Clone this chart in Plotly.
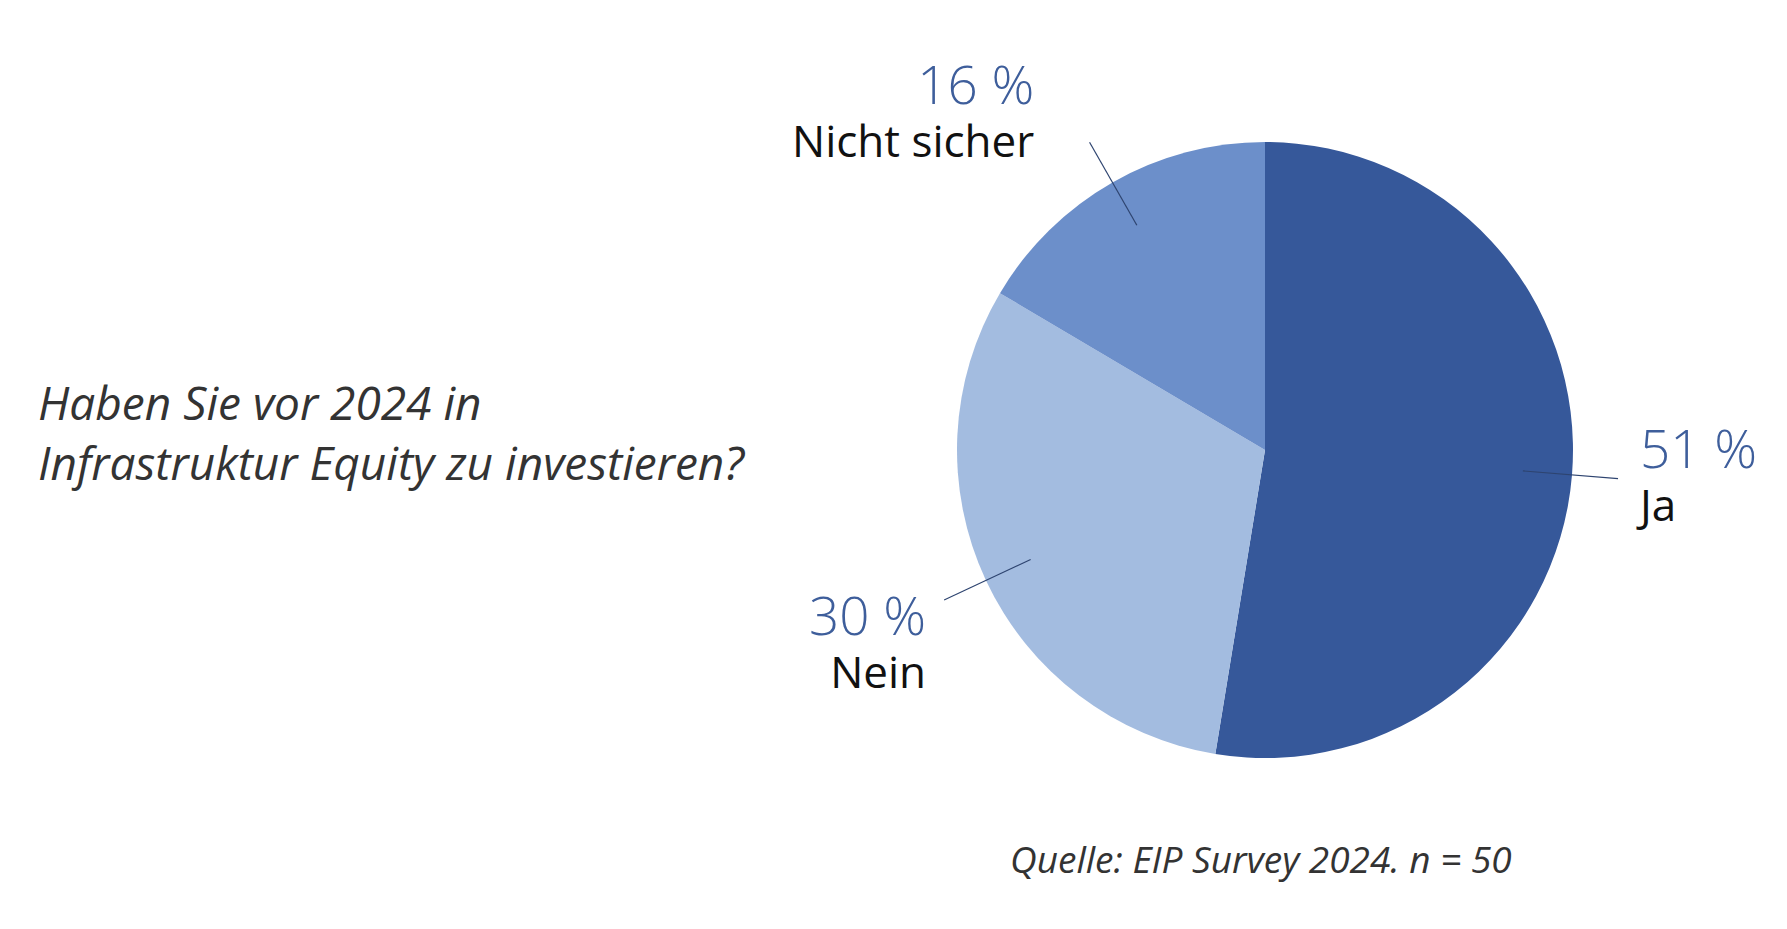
import math
import plotly.graph_objects as go

# ---- data ----
labels = ["Ja", "Nein", "Nicht sicher"]
values = [51, 30, 16]
pct_text = ["51 %", "30 %", "16 %"]
colors = ["#36589A", "#A3BCE0", "#6C8FCA"]

question = "Haben Sie vor 2024 in<br>Infrastruktur Equity zu investieren?"
source = "Quelle: EIP Survey 2024. n = 50"

# page body adds an 8 px margin; figure sized to fit the window
OFF = 8
W, H = 1787 - OFF, 929 - OFF
CX, CY, R = 1265, 450, 308  # pie centre / radius in reference px


def px(x):
    return (x - OFF) / W


def py(y):
    return 1 - (y - OFF) / H


fig = go.Figure()
fig.add_trace(go.Pie(
    labels=labels, values=values, sort=False, direction="clockwise", rotation=0,
    marker=dict(colors=colors, line=dict(width=0)),
    textinfo="none", hoverinfo="label+percent", showlegend=False,
    domain=dict(x=[px(CX - R), px(CX + R)], y=[py(CY + R), py(CY - R)]),
))

# leader lines along slice mid-angles, derived from the data
total = sum(values)
cum = 0
shapes = []
for v in values:
    mid = (cum + v / 2) / total * 2 * math.pi
    cum += v
    sx, sy = math.sin(mid), -math.cos(mid)
    x0, y0 = CX + 0.84 * R * sx, CY + 0.84 * R * sy
    x1, y1 = CX + 1.15 * R * sx, CY + 1.15 * R * sy
    shapes.append(dict(type="line", xref="paper", yref="paper",
                       x0=px(x0), y0=py(y0), x1=px(x1), y1=py(y1),
                       line=dict(color="#2E4470", width=1.2)))

base_font = dict(family="Open Sans", size=41, color="#111111")
PCT_SPAN = "<span style='font-size:53px;color:#3E5E9B;font-weight:300'>{}</span>"
NAME_SPAN = "<span style='font-size:44px'>{}</span>"

# label placement (reference px): (x, y_centre_of_block, anchor)
place = [
    (1634, 472, "left"),
    (928, 639, "right"),
    (1036, 108, "right"),
]
annotations = []
for i, (x, yc, anc) in enumerate(place):
    annotations.append(dict(text=PCT_SPAN.format(pct_text[i]) + "<br>" + NAME_SPAN.format(labels[i]),
                            x=px(x), y=py(yc), xref="paper", yref="paper",
                            xanchor=anc, yanchor="middle", align=anc, showarrow=False,
                            font=base_font))

annotations.append(dict(text=question, x=px(36), y=py(432), xref="paper", yref="paper",
                        xanchor="left", yanchor="middle", align="left", showarrow=False,
                        font=dict(family="Open Sans", size=46, color="#333333", style="italic")))
annotations.append(dict(text=source, x=px(1514), y=py(858), xref="paper", yref="paper",
                        xanchor="right", yanchor="middle", align="right", showarrow=False,
                        font=dict(family="Open Sans", size=37, color="#333333", style="italic")))

fig.update_layout(
    width=W, height=H, margin=dict(l=0, r=0, t=0, b=0),
    paper_bgcolor="white", plot_bgcolor="white",
    shapes=shapes, annotations=annotations,
)

fig.write_html("out.html")
